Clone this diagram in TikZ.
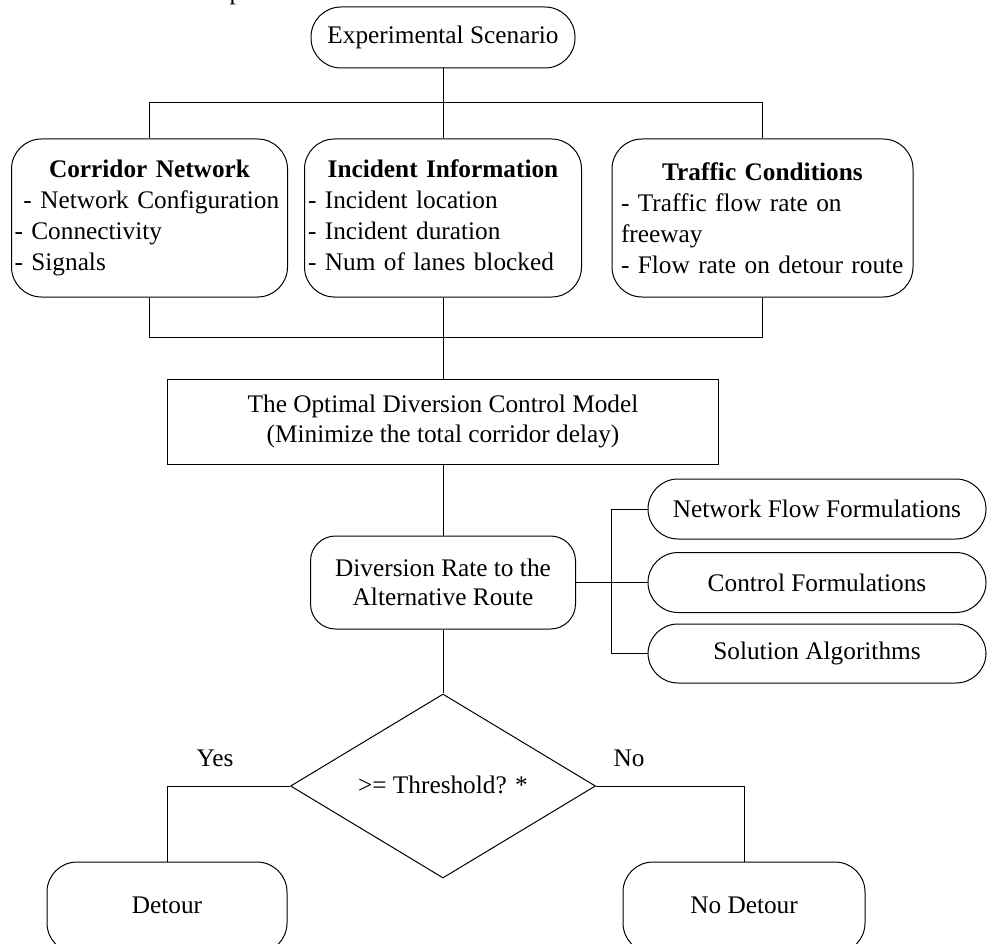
\documentclass[tikz,border=0pt]{standalone}
\usepackage{fontspec}
\setmainfont{Liberation Serif}
\usetikzlibrary{shapes.geometric}
\tikzset{
  base/.style={font=\fontsize{25.3}{30}\selectfont, line width=1pt},
  pill/.style={base, draw, rounded corners=30pt, inner sep=0pt, align=center},
  topbox/.style={base, draw, rounded corners=30pt, align=left, inner ysep=0pt, minimum height=158pt,
                 font=\fontsize{25.3}{31}\selectfont},
  plainbox/.style={base, draw, inner sep=0pt, align=center},
  conn/.style={line width=1pt},
  lbl/.style={base, inner sep=0pt}
}
\begin{document}
\begin{tikzpicture}[x=1pt,y=-1pt]
\useasboundingbox (0,0) rectangle (987,944);

\node[lbl, anchor=base west] (ptxt) at (229,0) {p};

\node[pill, minimum width=264pt, minimum height=61pt] (es) at (443,37.5) {Experimental Scenario};

\node[topbox, inner xsep=3pt, text width=270pt] (cn) at (149.5,218)
  {\makebox[270pt]{\textbf{Corridor Network}}\\\hspace*{9pt}- Network Configuration\\- Connectivity\\- Signals};
\node[topbox, inner xsep=3.5pt, text width=270pt] (ii) at (443,218)
  {\makebox[270pt]{\textbf{Incident Information}}\\- Incident location\\- Incident duration\\- Num of lanes blocked\vphantom{g}};
\node[topbox, inner xsep=9pt, text width=283pt] (tc) at (762.5,218)
  {\makebox[283pt]{\textbf{Traffic Conditions}}\\- Traffic flow rate on\\freeway\\- Flow rate on detour route};

\node[plainbox, minimum width=551pt, minimum height=85pt] (om) at (443,421.5)
  {The Optimal Diversion Control Model\\(Minimize the total corridor delay)};

\node[pill, rounded corners=25pt, minimum width=265pt, minimum height=93pt,
      font=\fontsize{25.3}{29}\selectfont] (dr) at (443,582.5)
  {Diversion Rate to the\\Alternative Route};

\node[pill, minimum width=338pt, minimum height=60pt] (nf) at (817,509) {Network Flow Formulations};
\node[pill, minimum width=338pt, minimum height=60pt] (cf) at (817,582.5) {Control Formulations};
\node[pill, minimum width=338pt, minimum height=59pt] (sa) at (817,653.5) {Solution Algorithms};

\node[base, draw, diamond, aspect=1.66, inner sep=0pt, minimum width=305pt, minimum height=184pt] (th) at (443,786)
  {\raisebox{2pt}{{>}= Threshold? *}};

\node[pill, minimum width=240pt, minimum height=91pt] (de) at (167,907.5) {\raisebox{5pt}{Detour}};
\node[pill, minimum width=242pt, minimum height=91pt] (nd) at (744,907.5) {\raisebox{5pt}{No Detour}};

\node[lbl] (yes) at (215,758) {Yes};
\node[lbl] (no) at (629,758) {No};

% connectors
\draw[conn] (es) -- (ii);
\draw[conn] (cn.north) -- ++(0,-36) -| (tc.north);
\draw[conn] (cn.south) -- ++(0,40) -| (tc.south);
\draw[conn] (ii) -- (om);
\draw[conn] (om) -- (dr);
\draw[conn] (dr.east) -- (cf.west);
\draw[conn] (nf.west) -- ++(-36,0) |- (sa.west);
\draw[conn] (dr) -- (th);
\draw[conn] (th.west) -| (de.north);
\draw[conn] (th.east) -| (nd.north);
\end{tikzpicture}
\end{document}
